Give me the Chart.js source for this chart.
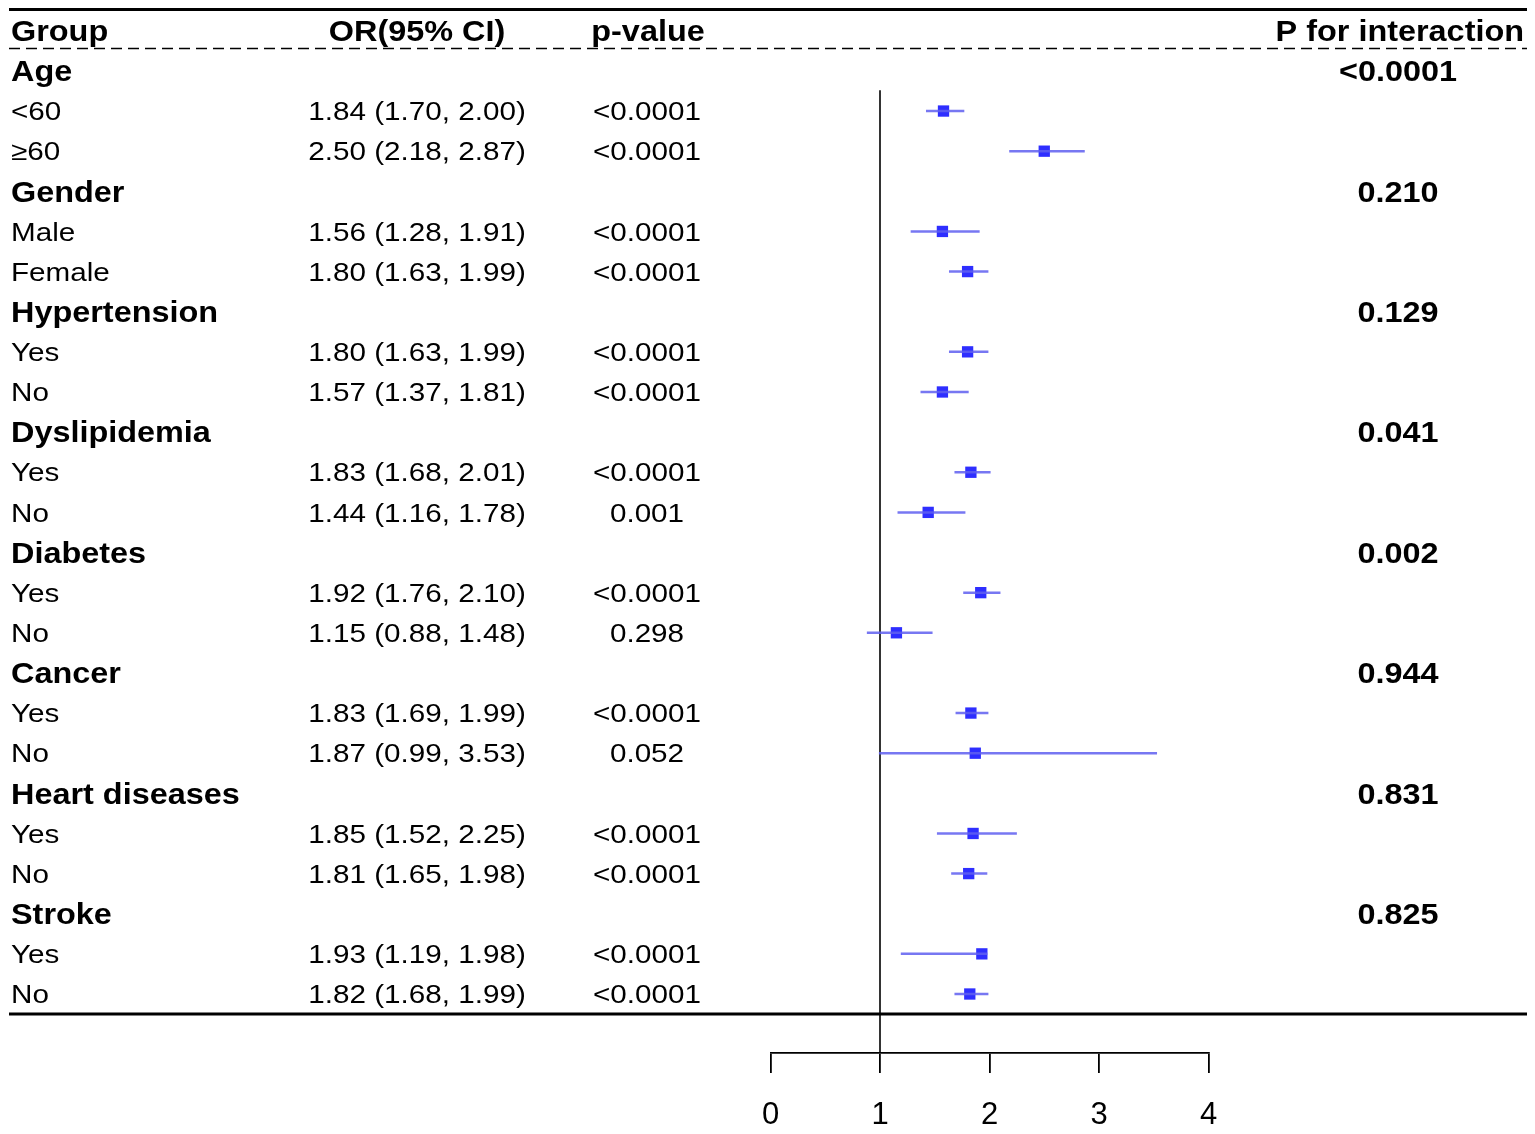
<!DOCTYPE html>
<html>
<head>
<meta charset="utf-8">
<script src="https://cdn.jsdelivr.net/npm/chart.js@4.4.1/dist/chart.umd.min.js"></script>
<style>
  html, body { margin: 0; padding: 0; background: #fff; }
  #wrap { width: 1535px; height: 1134px; position: relative; }
</style>
</head>
<body>
<div id="wrap"><canvas id="forest"></canvas></div>
<script>
// table data
const groups = ['Age', 'Gender', 'Hypertension', 'Dyslipidemia', 'Diabetes', 'Cancer', 'Heart diseases', 'Stroke'];
const pInteraction = ['<0.0001', '0.210', '0.129', '0.041', '0.002', '0.944', '0.831', '0.825'];
const subgroups = ['<60', '≥60', 'Male', 'Female', 'Yes', 'No', 'Yes', 'No', 'Yes', 'No', 'Yes', 'No', 'Yes', 'No', 'Yes', 'No'];
const orText = [
  '1.84 (1.70, 2.00)', '2.50 (2.18, 2.87)',
  '1.56 (1.28, 1.91)', '1.80 (1.63, 1.99)',
  '1.80 (1.63, 1.99)', '1.57 (1.37, 1.81)',
  '1.83 (1.68, 2.01)', '1.44 (1.16, 1.78)',
  '1.92 (1.76, 2.10)', '1.15 (0.88, 1.48)',
  '1.83 (1.69, 1.99)', '1.87 (0.99, 3.53)',
  '1.85 (1.52, 2.25)', '1.81 (1.65, 1.98)',
  '1.93 (1.19, 1.98)', '1.82 (1.68, 1.99)'
];
const pValues = ['<0.0001', '<0.0001', '<0.0001', '<0.0001', '<0.0001', '<0.0001', '<0.0001', '0.001',
  '<0.0001', '0.298', '<0.0001', '0.052', '<0.0001', '<0.0001', '<0.0001', '<0.0001'];

// plotted estimates
const orEst = [1.58, 2.50, 1.57, 1.80, 1.80, 1.57, 1.83, 1.44, 1.92, 1.15, 1.83, 1.87, 1.85, 1.81, 1.93, 1.82];
const ciLow = [1.42, 2.18, 1.28, 1.63, 1.63, 1.37, 1.68, 1.16, 1.76, 0.88, 1.69, 0.99, 1.52, 1.65, 1.19, 1.68];
const ciHigh = [1.77, 2.87, 1.91, 1.99, 1.99, 1.81, 2.01, 1.78, 2.10, 1.48, 1.99, 3.53, 2.25, 1.98, 1.98, 1.99];
const xTicks = [0, 1, 2, 3, 4];

const FONT = '"Liberation Sans", Arial, Helvetica, sans-serif';
const subRow = (i) => 3 * Math.floor(i / 2) + 1 + (i % 2);

const ciSets = orEst.map((_, i) => ({
  type: 'line',
  data: [{ x: ciLow[i], y: subRow(i) }, { x: ciHigh[i], y: subRow(i) }],
  borderColor: 'rgba(95, 95, 240, 0.85)',
  borderWidth: 2.5,
  pointRadius: 0,
  clip: false
}));

const pointSet = {
  type: 'scatter',
  data: orEst.map((v, i) => ({ x: v, y: subRow(i) })),
  pointStyle: 'rect',
  pointRadius: 8,
  pointBorderWidth: 0,
  backgroundColor: '#2e2eff',
  clip: false
};

function drawText(ctx, text, x, y, align, bold) {
  ctx.save();
  ctx.font = (bold ? 'bold 30px ' : '26px ') + FONT;
  ctx.fillStyle = '#000';
  ctx.textAlign = align;
  ctx.textBaseline = 'middle';
  ctx.translate(x, y + 2);
  ctx.scale(bold ? 1.08 : 1.14, 1);
  ctx.fillText(text, 0, 0);
  ctx.restore();
}

const tablePlugin = {
  id: 'forestTable',
  beforeDatasetsDraw(chart) {
    const { ctx, scales } = chart;
    const y = scales.y;
    const x = scales.x;
    ctx.save();
    ctx.strokeStyle = '#000';
    // top rule
    ctx.lineWidth = 3;
    ctx.beginPath();
    ctx.moveTo(9, 9.5);
    ctx.lineTo(1527, 9.5);
    ctx.stroke();
    // dashed rule under header
    ctx.lineWidth = 1.6;
    ctx.setLineDash([11, 6]);
    ctx.beginPath();
    ctx.moveTo(9, 48.5);
    ctx.lineTo(1527, 48.5);
    ctx.stroke();
    ctx.setLineDash([]);
    // bottom rule
    ctx.lineWidth = 3;
    const yb = y.getPixelForValue(23.5);
    ctx.beginPath();
    ctx.moveTo(9, yb);
    ctx.lineTo(1527, yb);
    ctx.stroke();
    // reference line at OR = 1
    ctx.lineWidth = 1.6;
    const x1 = x.getPixelForValue(1);
    ctx.beginPath();
    ctx.moveTo(x1, y.getPixelForValue(0.48));
    ctx.lineTo(x1, chart.chartArea.bottom);
    ctx.stroke();
    ctx.restore();
  },
  afterDraw(chart) {
    const { ctx, scales } = chart;
    const y = scales.y;
    const hy = y.getPixelForValue(-1);
    drawText(ctx, 'Group', 11, hy, 'left', true);
    drawText(ctx, 'OR(95% CI)', 417, hy, 'center', true);
    drawText(ctx, 'p-value', 648, hy, 'center', true);
    drawText(ctx, 'P for interaction', 1524, hy, 'right', true);
    groups.forEach((g, k) => {
      const gy = y.getPixelForValue(3 * k);
      drawText(ctx, g, 11, gy, 'left', true);
      drawText(ctx, pInteraction[k], 1398, gy, 'center', true);
    });
    subgroups.forEach((s, i) => {
      const sy = y.getPixelForValue(subRow(i));
      drawText(ctx, s, 11, sy, 'left', false);
      drawText(ctx, orText[i], 417, sy, 'center', false);
      drawText(ctx, pValues[i], 647, sy, 'center', false);
    });
  }
};

new Chart(document.getElementById('forest'), {
  data: { datasets: [...ciSets, pointSet] },
  options: {
    responsive: true,
    maintainAspectRatio: false,
    animation: false,
    layout: { padding: { left: 770.5, right: 326.5, top: 9.5, bottom: 0 } },
    plugins: { legend: { display: false }, tooltip: { enabled: false } },
    scales: {
      x: {
        type: 'linear',
        min: 0,
        max: 4,
        afterBuildTicks: (scale) => { scale.ticks = xTicks.map((v) => ({ value: v })); },
        afterFit: (scale) => { scale.height = 81; },
        grid: { drawOnChartArea: false, drawTicks: true, tickLength: 20, color: '#000', lineWidth: 1.8 },
        border: { display: true, color: '#000', width: 1.8 },
        ticks: { color: '#000', padding: 24, font: { family: FONT, size: 31 } }
      },
      y: {
        type: 'linear',
        reverse: true,
        min: -1.53,
        max: 24.47,
        display: false
      }
    }
  },
  plugins: [tablePlugin]
});
</script>
</body>
</html>
